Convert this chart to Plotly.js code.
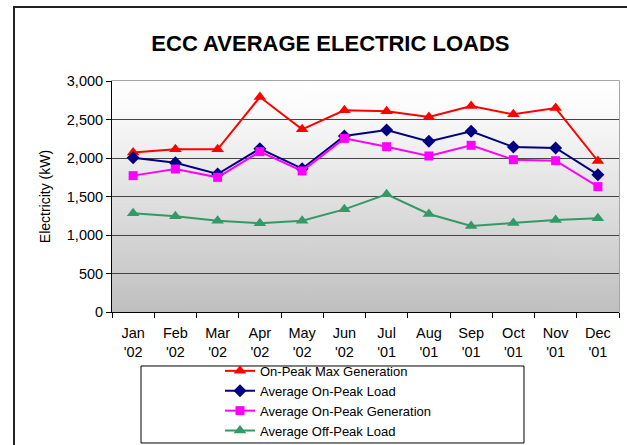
<!DOCTYPE html>
<html>
<head>
<meta charset="utf-8">
<script src="https://cdn.plot.ly/plotly-3.0.1.min.js"></script>
<style>
  html, body { margin: 0; padding: 0; background: #ffffff; }
  #wrap { position: relative; width: 627px; height: 445px; overflow: hidden; }
  #chart { width: 627px; height: 445px; }
  #frame { position: absolute; left: 13px; top: 6px; width: 640px; height: 460px;
           border-left: 2px solid #222; border-top: 2px solid #222; pointer-events: none; }
</style>
</head>
<body>
<div id="wrap">
  <div id="chart"></div>
  <div id="frame"></div>
</div>
<script>
// ---- data ----
const months = ["Jan<br>'02", "Feb<br>'02", "Mar<br>'02", "Apr<br>'02", "May<br>'02", "Jun<br>'02",
                "Jul<br>'01", "Aug<br>'01", "Sep<br>'01", "Oct<br>'01", "Nov<br>'01", "Dec<br>'01"];
const onPeakMaxGeneration = [2070, 2113, 2113, 2792, 2372, 2619, 2606, 2532, 2675, 2567, 2649, 1961];
const avgOnPeakLoad       = [2004, 1939, 1792, 2121, 1861, 2286, 2364, 2216, 2346, 2143, 2130, 1784];
const avgOnPeakGeneration = [1771, 1857, 1749, 2082, 1831, 2255, 2147, 2026, 2165, 1978, 1965, 1628];
const avgOffPeakLoad      = [1281, 1242, 1186, 1152, 1186, 1333, 1528, 1273, 1117, 1156, 1195, 1216];
const yTickVals = [0, 500, 1000, 1500, 2000, 2500, 3000];
const yTickText = ["0", "500", "1,000", "1,500", "2,000", "2,500", "3,000"];

// gradient background for plot area
const cv = document.createElement('canvas');
cv.width = 4; cv.height = 256;
const ctx = cv.getContext('2d');
const g = ctx.createLinearGradient(0, 0, 0, 256);
g.addColorStop(0, '#ffffff');
g.addColorStop(0.12, '#fbfbfb');
g.addColorStop(1, '#bfbfbf');
ctx.fillStyle = g;
ctx.fillRect(0, 0, 4, 256);
const bgUrl = cv.toDataURL();

const font = "Arial, 'Liberation Sans', sans-serif";

function series(name, y, color, symbol, size) {
  return {
    type: 'scatter', mode: 'lines+markers', name: name, x: months, y: y,
    line: { color: color, width: 2 },
    marker: { color: color, symbol: symbol, size: size, line: { width: 0 } }
  };
}

const data = [
  series('On-Peak Max Generation', onPeakMaxGeneration, '#ff0000', 'triangle-up', 11),
  series('Average On-Peak Load', avgOnPeakLoad, '#000080', 'diamond', 10),
  series('Average On-Peak Generation', avgOnPeakGeneration, '#ff00ff', 'square', 9),
  series('Average Off-Peak Load', avgOffPeakLoad, '#339966', 'triangle-up', 11)
];

const layout = {
  width: 627, height: 445,
  margin: { l: 112, r: 8, t: 81, b: 133, autoexpand: false },
  paper_bgcolor: 'rgba(0,0,0,0)',
  plot_bgcolor: 'rgba(0,0,0,0)',
  font: { family: font, size: 14, color: '#000' },
  title: { text: '<b>ECC AVERAGE ELECTRIC LOADS</b>', font: { family: font, size: 22, color: '#000' },
           x: 0.527, xanchor: 'center', y: 0.903, yanchor: 'middle' },
  showlegend: true,
  legend: {
    x: 0.213, xanchor: 'left', y: -0.19, yanchor: 'top',
    bgcolor: 'rgba(0,0,0,0)', borderwidth: 0,
    font: { family: font, size: 13, color: '#000' },
    tracegroupgap: 0
  },
  xaxis: {
    type: 'category', range: [-0.5, 11.5], fixedrange: true,
    showline: true, linecolor: '#000', linewidth: 1,
    ticks: 'outside', ticklen: 5, tickcolor: '#000', tickson: 'boundaries',
    ticklabelstandoff: 8,
    showgrid: false, tickfont: { family: font, size: 14.5, color: '#000' }
  },
  yaxis: {
    range: [0, 3000], tickvals: yTickVals, ticktext: yTickText,
    showline: true, linecolor: '#000', linewidth: 1,
    ticks: 'outside', ticklen: 5, tickcolor: '#000',
    showgrid: true, gridcolor: '#444444', gridwidth: 1, zeroline: false,
    tickfont: { family: font, size: 14.5, color: '#000' },
    title: { text: 'Electricity (kW)', font: { family: font, size: 14, color: '#000' }, standoff: 12 }
  },
  images: [{
    source: bgUrl, xref: 'x domain', yref: 'y domain', x: 0, y: 1,
    sizex: 1, sizey: 1, sizing: 'stretch', xanchor: 'left', yanchor: 'top', layer: 'below'
  }],
  shapes: [
    { type: 'rect', xref: 'paper', yref: 'paper', x0: 0, x1: 1, y0: 0, y1: 1,
      line: { color: '#888888', width: 1.5 }, layer: 'below' },
    { type: 'rect', xref: 'paper', yref: 'paper', x0: 0.0572, x1: 0.8126, y0: -0.567, y1: -0.2337,
      line: { color: '#000', width: 1 }, fillcolor: 'rgba(0,0,0,0)' }
  ]
};

Plotly.newPlot('chart', data, layout, { displayModeBar: false, staticPlot: true });
</script>
</body>
</html>
